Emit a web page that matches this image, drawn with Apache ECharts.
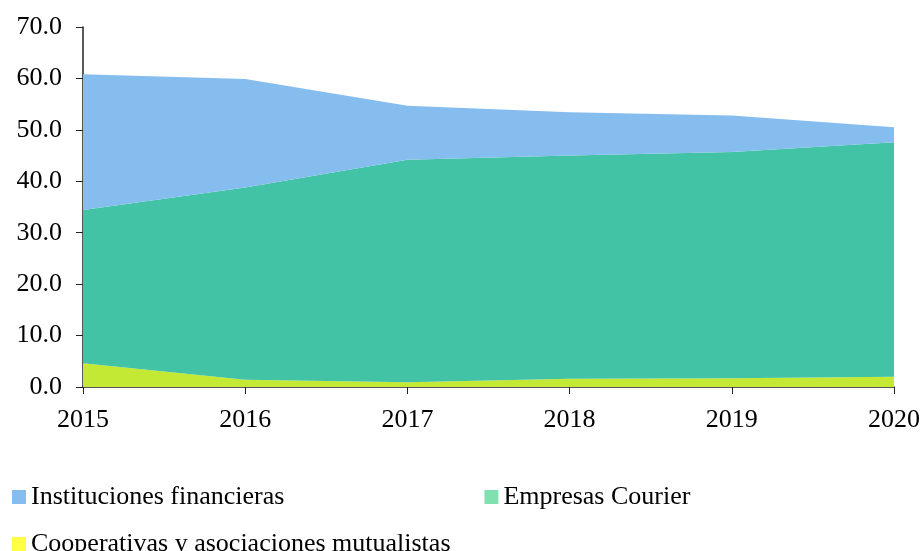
<!DOCTYPE html>
<html>
<head>
<meta charset="utf-8">
<script src="https://cdn.jsdelivr.net/npm/echarts@6/dist/echarts.min.js"></script>
<style>
  html, body { margin: 0; padding: 0; background: #fff; }
  #chart { width: 924px; height: 551px; }
</style>
</head>
<body>
<div id="chart"></div>
<script>
// datos
const years = ['2015', '2016', '2017', '2018', '2019', '2020'];
const cooperativas = [4.6, 1.4, 0.9, 1.6, 1.7, 2.0];
const courier = [29.8, 37.4, 43.3, 43.4, 44.0, 45.6];
const financieras = [26.4, 21.1, 10.5, 8.4, 7.1, 2.9];

const serif = "'Liberation Serif', 'Times New Roman', serif";
const chart = echarts.init(document.getElementById('chart'));

const mkSeries = (name, data, legendColor, areaColor) => ({
  name: name,
  type: 'line',
  stack: 'total',
  data: data,
  showSymbol: false,
  symbol: 'none',
  lineStyle: { width: 0, color: areaColor },
  itemStyle: { color: legendColor },
  areaStyle: { color: areaColor, opacity: 1 },
  emphasis: { disabled: true }
});

const legendBase = {
  icon: 'rect',
  itemWidth: 14,
  itemHeight: 14,
  itemGap: 200,
  left: 7,
  textStyle: { fontFamily: serif, fontSize: 26, color: '#000' }
};

chart.setOption({
  animation: false,
  grid: { left: 83, right: 30, top: 27, bottom: 164 },
  legend: [
    Object.assign({}, legendBase, { top: 479, data: ['Instituciones financieras', 'Empresas Courier'] }),
    Object.assign({}, legendBase, { top: 526, data: ['Cooperativas y asociaciones mutualistas'] })
  ],
  xAxis: {
    type: 'category',
    data: years,
    boundaryGap: false,
    axisLine: { lineStyle: { color: '#222', width: 1.5 } },
    axisTick: { alignWithLabel: true, length: 7, lineStyle: { color: '#222' } },
    axisLabel: { fontFamily: serif, fontSize: 26, color: '#000', margin: 20 },
    splitLine: { show: false }
  },
  yAxis: {
    type: 'value',
    min: 0,
    max: 70,
    interval: 10,
    axisLine: { show: true, lineStyle: { color: '#222', width: 1.5 } },
    axisTick: { show: true, length: 7, inside: false, lineStyle: { color: '#222' } },
    axisLabel: {
      fontFamily: serif, fontSize: 26, color: '#000', margin: 21,
      formatter: v => v.toFixed(1)
    },
    splitLine: { show: false }
  },
  series: [
    mkSeries('Cooperativas y asociaciones mutualistas', cooperativas, '#ffff44', '#c3e934'),
    mkSeries('Empresas Courier', courier, '#80e0b0', '#43c3a5'),
    mkSeries('Instituciones financieras', financieras, '#85bdee', '#84bdee')
  ]
});
</script>
</body>
</html>
